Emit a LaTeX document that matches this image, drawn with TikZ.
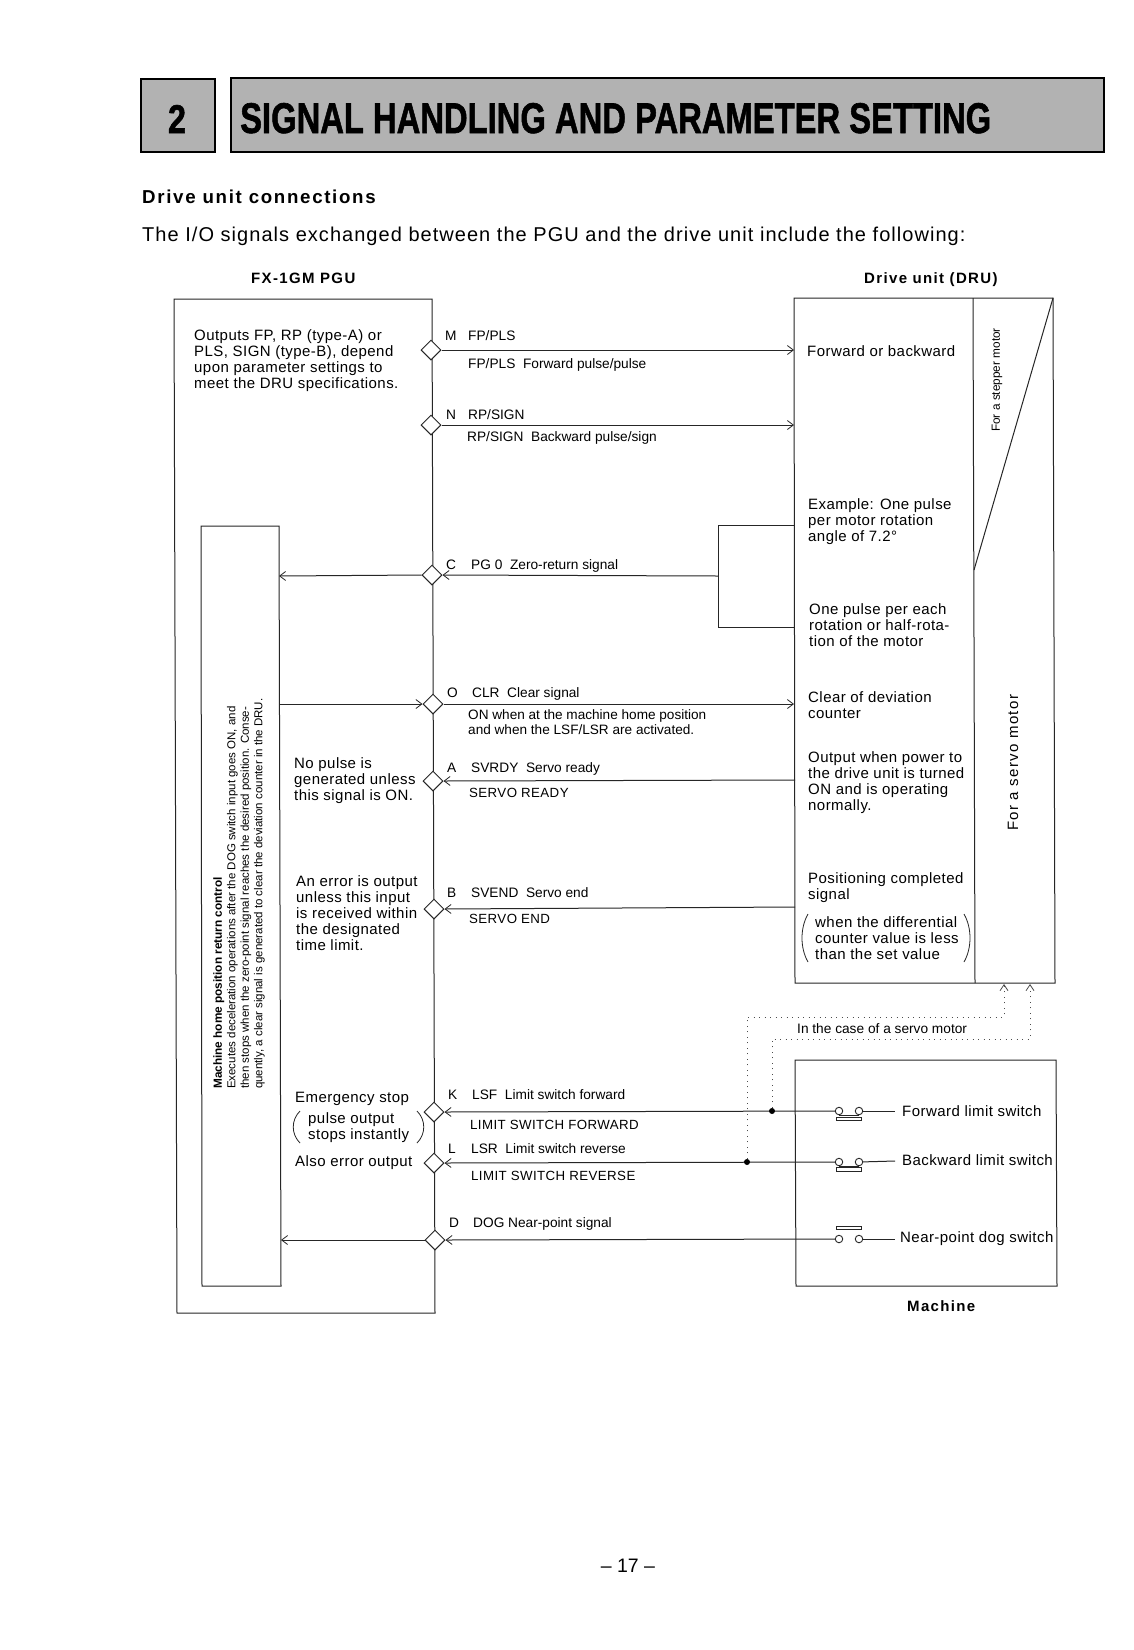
\documentclass[tikz,border=0pt]{standalone}
\usepackage{fontspec}
\setmainfont{Liberation Sans}
\newfontfamily\trk[LetterSpace=3]{Liberation Sans}
\newfontfamily\trkh[LetterSpace=5.2]{Liberation Sans}
\newfontfamily\trkb[LetterSpace=9]{Liberation Sans}
\newfontfamily\ttl[FakeBold=1.5]{Liberation Sans Bold}
\usetikzlibrary{arrows.meta,shapes.geometric}
\newcommand{\fs}[1]{\fontsize{#1}{#1}\selectfont}
\tikzset{
 ln/.style={line width=1pt,draw=black!85},
 sig/.style={ln,-{Straight Barb[length=6pt,width=9pt,line width=.8pt]}},
 dotl/.style={line width=1pt,draw=black!70,dash pattern=on 1pt off 4.5pt},
 dotar/.style={dotl,-{Straight Barb[length=6pt,width=8pt,line width=.8pt,line cap=butt]}},
 dia/.style={diamond,draw=black!85,fill=white,line width=1pt,minimum width=20pt,minimum height=20pt,inner sep=0pt,aspect=1},
 txt/.style={inner sep=0pt,anchor=west,align=left,font=\trk\fontsize{15}{16}\selectfont},
 midlab/.style={inner sep=0pt,anchor=base west,font=\fs{13.7}},
 caplab/.style={inner sep=0pt,anchor=base west,font=\trk\fs{13.3}},
 headlab/.style={inner sep=0pt,anchor=base west,font=\trkb\bfseries\fs{15}},
 rotlab/.style={inner sep=0pt,rotate=90,anchor=north west,align=left},
 ctc/.style={circle,draw=black!85,fill=white,line width=.9pt,minimum size=7.5pt,inner sep=0pt},
 jn/.style={circle,fill=black,minimum size=6pt,inner sep=0pt},
 barbox/.style={draw=black!85,fill=white,line width=.9pt},
 paren/.style={line width=.8pt,draw=black!85},
}
\begin{document}
\begin{tikzpicture}[x=1pt,y=-1pt]
\useasboundingbox[fill=white] (0,0) rectangle (1134,1650);
% header
\node[draw=black,line width=2pt,fill=black!30,minimum width=74pt,minimum height=73pt,inner sep=0,anchor=north west] (numbox) at (140,78) {};
\node[inner sep=0,anchor=base] (num) at (177,133) {\resizebox{18pt}{28pt}{\ttl 2}};
\node[draw=black,line width=2pt,fill=black!30,minimum width=873pt,minimum height=74pt,inner sep=0,anchor=north west] (titlebox) at (230,77) {};
\node[inner sep=0,anchor=base west] (title) at (240,133) {\resizebox{751pt}{30pt}{\ttl\fs{40}SIGNAL HANDLING AND PARAMETER SETTING}};
\node[inner sep=0,anchor=base west,font=\trkb\bfseries\fs{18.7}] (h1) at (142,203) {Drive unit connections};
\node[inner sep=0,anchor=base west,font=\trkh\fs{20}] (h2) at (142,241) {The I/O signals exchanged between the PGU and the drive unit include the following:};
\node[headlab] (pgu) at (251,283) {FX-1GM PGU};
\node[headlab] (dru) at (864,283) {Drive unit (DRU)};
\node[headlab] (mach) at (907,1311) {Machine};
\node[inner sep=0,font=\fs{19.5}] (pg) at (628,1566) {– 17 –};
% outlines
\coordinate (pa) at (174,299); \coordinate (pb) at (432,299); \coordinate (pc) at (435,1313); \coordinate (pd) at (177,1313);
\draw[ln] (pa)--(pb)--(pc)--(pd)--cycle;
\coordinate (ia) at (201,526); \coordinate (ib) at (279,526); \coordinate (ic) at (281,1286); \coordinate (id) at (202,1286);
\draw[ln] (ia)--(ib)--(ic)--(id)--cycle;
\coordinate (da) at (794,298); \coordinate (db) at (1053,298); \coordinate (dc) at (1055,983); \coordinate (dd) at (795,983);
\draw[ln] (da)--(db)--(dc)--(dd)--cycle;
\coordinate (dv1) at (973,298); \coordinate (dv2) at (975,983); \coordinate (dg) at (974,570);
\draw[ln] (dv1)--(dv2);
\draw[ln] (db)--(dg);
\coordinate (ba) at (794,525); \coordinate (bb) at (718,525); \coordinate (bc) at (718,627); \coordinate (bd) at (794,627);
\draw[ln] (ba)--(bb)--(bc)--(bd);
\coordinate (bm) at (718,576);
\coordinate (ma) at (795,1060); \coordinate (mb) at (1056,1060); \coordinate (mc) at (1057,1286); \coordinate (md) at (796,1286);
\draw[ln] (ma)--(mb)--(mc)--(md)--cycle;
% diamonds
\node[dia] (dM) at (431,350) {};
\node[dia] (dN) at (431,425) {};
\node[dia] (dC) at (432,575) {};
\node[dia] (dO) at (433,704) {};
\node[dia] (dA) at (433,781) {};
\node[dia] (dB) at (434,909) {};
\node[dia] (dK) at (434,1112) {};
\node[dia] (dL) at (434,1163) {};
\node[dia] (dD) at (435,1240) {};
% signals
\coordinate (eM) at (794,350); \coordinate (eN) at (794,425); \coordinate (eO) at (794,704);
\coordinate (eA) at (795,780); \coordinate (eB) at (795,907);
\coordinate (iC) at (279,576); \coordinate (iO) at (279,704); \coordinate (iD) at (281,1240);
\draw[sig] (dM.east)--(eM);
\draw[sig] (dN.east)--(eN);
\draw[sig] (bm)--(dC.east);
\draw[sig] (dC.west)--(iC);
\draw[sig] (iO)--(dO.west);
\draw[sig] (dO.east)--(eO);
\draw[sig] (eA)--(dA.east);
\draw[sig] (eB)--(dB.east);
\draw[sig] (dD.west)--(iD) ;
% switches
\node[ctc] (s1a) at (839,1111) {}; \node[ctc] (s1b) at (859,1111) {};
\node[ctc] (s2a) at (839,1162) {}; \node[ctc] (s2b) at (859,1162) {};
\node[ctc] (s3a) at (839,1239) {}; \node[ctc] (s3b) at (859,1239) {};
\draw[ln] (s1a.south)--(s1b.south);
\draw[ln] (s2a.south)--(s2b.south);
\draw[barbox] (836,1117) rectangle (861,1120);
\draw[barbox] (836,1167) rectangle (861,1171);
\draw[barbox] (836,1226) rectangle (861,1229.5);
\draw[sig] (s1a.west)--(dK.east);
\draw[sig] (s2a.west)--(dL.east);
\draw[sig] (s3a.west)--(dD.east);
\coordinate (t1) at (895,1111); \coordinate (t2) at (895,1161); \coordinate (t3) at (895,1239);
\draw[ln] (s1b)--(t1); \draw[ln] (s2b)--(t2); \draw[ln] (s3b)--(t3);
\node[jn] (j1) at (772,1111) {};
\node[jn] (j2) at (747,1162) {};
\coordinate (k1) at (772,1039); \coordinate (k2) at (1030,1039); \coordinate (k3) at (1030,984);
\coordinate (q1) at (747,1017); \coordinate (q2) at (1004,1017); \coordinate (q3) at (1004,984);
\draw[dotar] (j1)--(k1)--(k2)--(k3);
\draw[dotar] (j2)--(q1)--(q2)--(q3);
% PGU texts
\node[txt] (t01) at (194,361) {Outputs FP, RP (type-A) or\\PLS, SIGN (type-B), depend\\upon parameter settings to\\meet the DRU specifications.};
\node[txt] (t02) at (294,781) {No pulse is\\generated unless\\this signal is ON.};
\node[txt] (t03) at (296,913) {An error is output\\unless this input\\is received within\\the designated\\time limit.};
\node[txt,anchor=base west] (t04) at (295,1102) {Emergency stop};
\node[txt] (t05) at (308,1128) {pulse output\\stops instantly};
\node[txt,anchor=base west] (t06) at (295,1166) {Also error output};
\draw[paren] (300,1111) .. controls (291,1120) and (291,1134) .. (300,1143);
\draw[paren] (417,1111) .. controls (426,1120) and (426,1134) .. (417,1143);
\node[rotlab,font=\fontsize{11.5}{13.5}\selectfont] (t07) at (213,1089) {{\fontsize{11.8}{13.5}\selectfont\bfseries Machine home position return control}\\Executes deceleration operations after the DOG switch input goes ON, and\\then stops when the zero-point signal reaches the desired position. Conse-\\quently, a clear signal is generated to clear the deviation counter in the DRU.};
% signal labels
\node[midlab] (lM) at (445,340) {M}; \node[midlab] (lM2) at (468,340) {FP/PLS};
\node[midlab] (lM3) at (468,368) {FP/PLS\ \ Forward pulse/pulse};
\node[midlab] (lN) at (446,419) {N}; \node[midlab] (lN2) at (468,419) {RP/SIGN};
\node[midlab] (lN3) at (467,441) {RP/SIGN\ \ Backward pulse/sign};
\node[midlab] (lC) at (446,569) {C}; \node[midlab] (lC2) at (471,569) {PG 0\ \ Zero-return signal};
\node[midlab] (lO) at (447,697) {O}; \node[midlab] (lO2) at (472,697) {CLR\ \ Clear signal};
\node[inner sep=0,anchor=west,align=left,font=\fontsize{13.6}{14.5}\selectfont] (lO3) at (468,722) {ON when at the machine home position\\and when the LSF/LSR are activated.};
\node[midlab] (lA) at (447,772) {A}; \node[midlab] (lA2) at (471,772) {SVRDY\ \ Servo ready};
\node[caplab] (lA3) at (469,797) {SERVO READY};
\node[midlab] (lB) at (447,897) {B}; \node[midlab] (lB2) at (471,897) {SVEND\ \ Servo end};
\node[caplab] (lB3) at (469,923) {SERVO END};
\node[midlab] (lK) at (448,1099) {K}; \node[midlab] (lK2) at (472,1099) {LSF\ \ Limit switch forward};
\node[caplab] (lK3) at (470,1129) {LIMIT SWITCH FORWARD};
\node[midlab] (lL) at (448,1153) {L}; \node[midlab] (lL2) at (471,1153) {LSR\ \ Limit switch reverse};
\node[caplab] (lL3) at (471,1180) {LIMIT SWITCH REVERSE};
\node[midlab] (lD) at (449,1227) {D}; \node[midlab] (lD2) at (473,1227) {DOG Near-point signal};
% DRU texts
\node[txt,anchor=base west] (r1) at (807,356) {Forward or backward};
\node[txt] (r2) at (808,522) {Example: One pulse\\per motor rotation\\angle of 7.2°};
\node[txt] (r3) at (809,625) {One pulse per each\\rotation or half-rota-\\tion of the motor};
\node[txt] (r4) at (808,705) {Clear of deviation\\counter};
\node[txt] (r5) at (808,783) {Output when power to\\the drive unit is turned\\ON and is operating\\normally.};
\node[txt] (r6) at (808,888) {Positioning completed\\signal};
\node[txt] (r7) at (815,938) {when the differential\\counter value is less\\than the set value};
\draw[paren] (808,914) .. controls (800,928) and (800,948) .. (808,962);
\draw[paren] (964,914) .. controls (972,928) and (972,948) .. (964,962);
\node[inner sep=0,rotate=90,anchor=west,font=\fs{11.8}] (r8) at (997,432) {For a stepper motor};
\node[inner sep=0,rotate=90,anchor=west,font=\trkb\fs{15}] (r9) at (1013,831) {For a servo motor};
\node[inner sep=0,anchor=base west,font=\fs{13.7}] (r10) at (797,1033) {In the case of a servo motor};
\node[txt,anchor=base west] (m1) at (902,1116) {Forward limit switch};
\node[txt,anchor=base west] (m2) at (902,1165) {Backward limit switch};
\node[txt,anchor=base west] (m3) at (900,1242) {Near-point dog switch};
\end{tikzpicture}
\end{document}
